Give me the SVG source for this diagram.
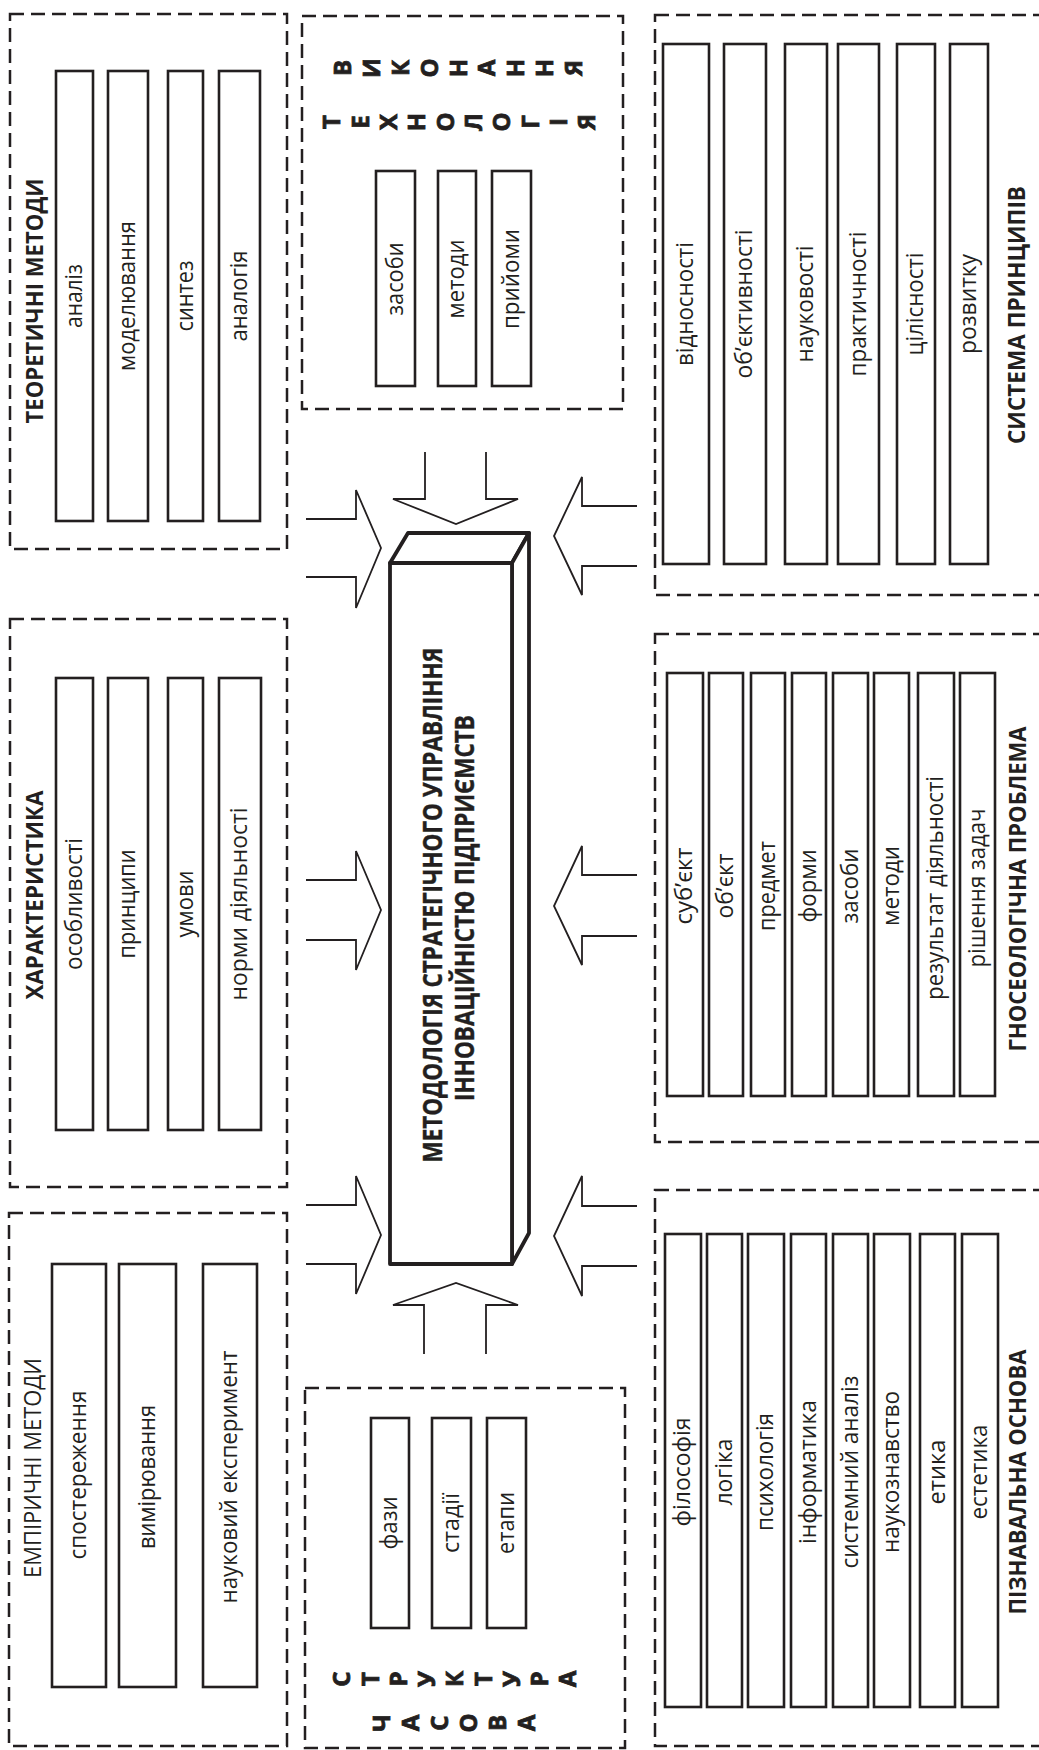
<svg xmlns="http://www.w3.org/2000/svg" width="1039" height="1750" viewBox="0 0 1039 1750">
<style>
.dash{fill:none;stroke:#231f20;stroke-width:2.5;stroke-dasharray:14 7}
.item{fill:#fff;stroke:#231f20;stroke-width:2.6}
.hub{fill:#fff;stroke:#231f20;stroke-width:3.8;stroke-linejoin:round}
.arrow{fill:none;stroke:#231f20;stroke-width:1.8}
text{font-family:'Open Sans','DejaVu Sans',sans-serif;fill:#231f20;text-anchor:middle}
.lbl{font-size:23px}
.ttl{font-size:24px;font-weight:bold}
.reg{font-size:24px}
.ltr{font-size:24px;font-weight:bold;stroke:#231f20;stroke-width:0.8}
.hubt{font-size:27px;font-weight:bold;stroke:#231f20;stroke-width:0.4}
</style>
<rect width="1039" height="1750" fill="#fff"/>

<g id="connectors">
<polyline class="arrow" points="306,519 356,519 356,490 381,548 356,608 356,577 306,577"/>
<polyline class="arrow" points="306,880 356,880 356,851 381,910 356,970 356,940 306,940"/>
<polyline class="arrow" points="306,1205 356,1205 356,1176 381,1235 356,1294 356,1264 306,1264"/>
<polyline class="arrow" points="637,506 582,506 582,477 554,536 582,595 582,566 637,566"/>
<polyline class="arrow" points="637,875 582,875 582,846 554,906 582,965 582,936 637,936"/>
<polyline class="arrow" points="637,1206 582,1206 582,1176 554,1236 582,1296 582,1266 637,1266"/>
<polyline class="arrow" points="425,452 425,499 393,499 456,524 518,499 486,499 486,452"/>
<polyline class="arrow" points="424,1354 424,1305 393,1305 456,1283 518,1305 486,1305 486,1354"/>
</g>

<g id="hub">
<polygon class="hub" points="390,563 408,533 529,533 512,563"/>
<polygon class="hub" points="512,563 529,533 529,1233 512,1264"/>
<rect class="hub" x="390" y="563" width="122" height="701"/>
<text class="hubt" transform="translate(433,905) rotate(-90)" dy="0.35em" textLength="515" lengthAdjust="spacingAndGlyphs">МЕТОДОЛОГІЯ СТРАТЕГІЧНОГО УПРАВЛІННЯ</text>
<text class="hubt" transform="translate(465,908) rotate(-90)" dy="0.35em" textLength="386" lengthAdjust="spacingAndGlyphs">ІННОВАЦІЙНІСТЮ ПІДПРИЄМСТВ</text>
</g>

<g id="theoretical">
<rect class="dash" x="10" y="14" width="277" height="535"/>
<text class="ttl" transform="translate(35,301) rotate(-90)" dy="0.35em" textLength="245" lengthAdjust="spacingAndGlyphs">ТЕОРЕТИЧНІ МЕТОДИ</text>
<rect class="item" x="56" y="71" width="37" height="450"/>
<rect class="item" x="108" y="71" width="40" height="450"/>
<rect class="item" x="168" y="71" width="35" height="450"/>
<rect class="item" x="219" y="71" width="41" height="450"/>
<text class="lbl" transform="translate(74.5,296) rotate(-90)" dy="0.32em" textLength="64" lengthAdjust="spacingAndGlyphs">аналіз</text>
<text class="lbl" transform="translate(128,296) rotate(-90)" dy="0.32em" textLength="150" lengthAdjust="spacingAndGlyphs">моделювання</text>
<text class="lbl" transform="translate(185.5,296) rotate(-90)" dy="0.32em" textLength="71" lengthAdjust="spacingAndGlyphs">синтез</text>
<text class="lbl" transform="translate(239.5,296) rotate(-90)" dy="0.32em" textLength="91" lengthAdjust="spacingAndGlyphs">аналогія</text>
</g>

<g id="characteristic">
<rect class="dash" x="10" y="619" width="277" height="568"/>
<text class="ttl" transform="translate(35,895) rotate(-90)" dy="0.35em" textLength="209" lengthAdjust="spacingAndGlyphs">ХАРАКТЕРИСТИКА</text>
<rect class="item" x="56" y="678" width="37" height="452"/>
<rect class="item" x="108" y="678" width="40" height="452"/>
<rect class="item" x="168" y="678" width="35" height="452"/>
<rect class="item" x="219" y="678" width="42" height="452"/>
<text class="lbl" transform="translate(74.5,904) rotate(-90)" dy="0.32em" textLength="132" lengthAdjust="spacingAndGlyphs">особливості</text>
<text class="lbl" transform="translate(128,904) rotate(-90)" dy="0.32em" textLength="109" lengthAdjust="spacingAndGlyphs">принципи</text>
<text class="lbl" transform="translate(185.5,904) rotate(-90)" dy="0.32em" textLength="67" lengthAdjust="spacingAndGlyphs">умови</text>
<text class="lbl" transform="translate(240,904) rotate(-90)" dy="0.32em" textLength="193" lengthAdjust="spacingAndGlyphs">норми діяльності</text>
</g>

<g id="empirical">
<rect class="dash" x="9" y="1213" width="278" height="533"/>
<text class="reg" transform="translate(33,1468) rotate(-90)" dy="0.35em" textLength="220" lengthAdjust="spacingAndGlyphs">ЕМПІРИЧНІ МЕТОДИ</text>
<rect class="item" x="52" y="1264" width="54" height="423"/>
<rect class="item" x="119" y="1264" width="57" height="423"/>
<rect class="item" x="203" y="1264" width="54" height="423"/>
<text class="lbl" transform="translate(79,1475) rotate(-90)" dy="0.32em" textLength="169" lengthAdjust="spacingAndGlyphs">спостереження</text>
<text class="lbl" transform="translate(147.5,1477) rotate(-90)" dy="0.32em" textLength="144" lengthAdjust="spacingAndGlyphs">вимірювання</text>
<text class="lbl" transform="translate(230,1477) rotate(-90)" dy="0.32em" textLength="253" lengthAdjust="spacingAndGlyphs">науковий експеримент</text>
</g>

<g id="technology">
<rect class="dash" x="302" y="16" width="321" height="393"/>
<text class="ltr" transform="translate(343,68) rotate(-90)" dy="0.35em">В</text>
<text class="ltr" transform="translate(371.8,68) rotate(-90)" dy="0.35em">И</text>
<text class="ltr" transform="translate(400.6,68) rotate(-90)" dy="0.35em">К</text>
<text class="ltr" transform="translate(429.4,68) rotate(-90)" dy="0.35em">О</text>
<text class="ltr" transform="translate(458.2,68) rotate(-90)" dy="0.35em">Н</text>
<text class="ltr" transform="translate(487,68) rotate(-90)" dy="0.35em">А</text>
<text class="ltr" transform="translate(515.8,68) rotate(-90)" dy="0.35em">Н</text>
<text class="ltr" transform="translate(544.6,68) rotate(-90)" dy="0.35em">Н</text>
<text class="ltr" transform="translate(573.4,68) rotate(-90)" dy="0.35em">Я</text>
<text class="ltr" transform="translate(332,122) rotate(-90)" dy="0.35em">Т</text>
<text class="ltr" transform="translate(360.3,122) rotate(-90)" dy="0.35em">Е</text>
<text class="ltr" transform="translate(388.6,122) rotate(-90)" dy="0.35em">Х</text>
<text class="ltr" transform="translate(416.9,122) rotate(-90)" dy="0.35em">Н</text>
<text class="ltr" transform="translate(445.2,122) rotate(-90)" dy="0.35em">О</text>
<text class="ltr" transform="translate(473.5,122) rotate(-90)" dy="0.35em">Л</text>
<text class="ltr" transform="translate(501.8,122) rotate(-90)" dy="0.35em">О</text>
<text class="ltr" transform="translate(530.1,122) rotate(-90)" dy="0.35em">Г</text>
<text class="ltr" transform="translate(558.4,122) rotate(-90)" dy="0.35em">І</text>
<text class="ltr" transform="translate(586.7,122) rotate(-90)" dy="0.35em">Я</text>
<rect class="item" x="376" y="171" width="39" height="215"/>
<rect class="item" x="438" y="171" width="38" height="215"/>
<rect class="item" x="492" y="171" width="39" height="215"/>
<text class="lbl" transform="translate(395.5,279) rotate(-90)" dy="0.32em" textLength="73" lengthAdjust="spacingAndGlyphs">засоби</text>
<text class="lbl" transform="translate(457,279) rotate(-90)" dy="0.32em" textLength="79" lengthAdjust="spacingAndGlyphs">методи</text>
<text class="lbl" transform="translate(511.5,279) rotate(-90)" dy="0.32em" textLength="100" lengthAdjust="spacingAndGlyphs">прийоми</text>
</g>

<g id="time-structure">
<rect class="dash" x="305" y="1388" width="320" height="360"/>
<rect class="item" x="371" y="1418" width="38" height="210"/>
<rect class="item" x="432" y="1418" width="39" height="210"/>
<rect class="item" x="487" y="1418" width="39" height="210"/>
<text class="lbl" transform="translate(390,1523) rotate(-90)" dy="0.32em" textLength="53" lengthAdjust="spacingAndGlyphs">фази</text>
<text class="lbl" transform="translate(451.5,1523) rotate(-90)" dy="0.32em" textLength="60" lengthAdjust="spacingAndGlyphs">стадії</text>
<text class="lbl" transform="translate(506.5,1523) rotate(-90)" dy="0.32em" textLength="62" lengthAdjust="spacingAndGlyphs">етапи</text>
<text class="ltr" transform="translate(342,1679) rotate(-90)" dy="0.35em">С</text>
<text class="ltr" transform="translate(370.25,1679) rotate(-90)" dy="0.35em">Т</text>
<text class="ltr" transform="translate(398.5,1679) rotate(-90)" dy="0.35em">Р</text>
<text class="ltr" transform="translate(426.75,1679) rotate(-90)" dy="0.35em">У</text>
<text class="ltr" transform="translate(455,1679) rotate(-90)" dy="0.35em">К</text>
<text class="ltr" transform="translate(483.25,1679) rotate(-90)" dy="0.35em">Т</text>
<text class="ltr" transform="translate(511.5,1679) rotate(-90)" dy="0.35em">У</text>
<text class="ltr" transform="translate(539.75,1679) rotate(-90)" dy="0.35em">Р</text>
<text class="ltr" transform="translate(568,1679) rotate(-90)" dy="0.35em">А</text>
<text class="ltr" transform="translate(382,1723) rotate(-90)" dy="0.35em">Ч</text>
<text class="ltr" transform="translate(411,1723) rotate(-90)" dy="0.35em">А</text>
<text class="ltr" transform="translate(440,1723) rotate(-90)" dy="0.35em">С</text>
<text class="ltr" transform="translate(469,1723) rotate(-90)" dy="0.35em">О</text>
<text class="ltr" transform="translate(498,1723) rotate(-90)" dy="0.35em">В</text>
<text class="ltr" transform="translate(527,1723) rotate(-90)" dy="0.35em">А</text>
</g>

<g id="principles">
<rect class="dash" x="655" y="15" width="400" height="580"/>
<rect class="item" x="663" y="44" width="46" height="520"/>
<rect class="item" x="724" y="44" width="42" height="520"/>
<rect class="item" x="785" y="44" width="42" height="520"/>
<rect class="item" x="838" y="44" width="41" height="520"/>
<rect class="item" x="897" y="44" width="38" height="520"/>
<rect class="item" x="950" y="44" width="38" height="520"/>
<text class="lbl" transform="translate(686,304) rotate(-90)" dy="0.32em" textLength="124" lengthAdjust="spacingAndGlyphs">відносності</text>
<text class="lbl" transform="translate(745,304) rotate(-90)" dy="0.32em" textLength="149" lengthAdjust="spacingAndGlyphs">об’єктивності</text>
<text class="lbl" transform="translate(806,304) rotate(-90)" dy="0.32em" textLength="117" lengthAdjust="spacingAndGlyphs">науковості</text>
<text class="lbl" transform="translate(858.5,304) rotate(-90)" dy="0.32em" textLength="145" lengthAdjust="spacingAndGlyphs">практичності</text>
<text class="lbl" transform="translate(916,304) rotate(-90)" dy="0.32em" textLength="103" lengthAdjust="spacingAndGlyphs">цілісності</text>
<text class="lbl" transform="translate(969,304) rotate(-90)" dy="0.32em" textLength="100" lengthAdjust="spacingAndGlyphs">розвитку</text>
<text class="ttl" transform="translate(1017,315) rotate(-90)" dy="0.35em" textLength="258" lengthAdjust="spacingAndGlyphs">СИСТЕМА ПРИНЦИПІВ</text>
</g>

<g id="gnoseological">
<rect class="dash" x="655" y="634" width="400" height="508"/>
<rect class="item" x="667" y="673" width="36" height="423"/>
<rect class="item" x="709" y="673" width="34" height="423"/>
<rect class="item" x="751" y="673" width="34" height="423"/>
<rect class="item" x="792" y="673" width="34" height="423"/>
<rect class="item" x="833" y="673" width="35" height="423"/>
<rect class="item" x="874" y="673" width="35" height="423"/>
<rect class="item" x="918" y="673" width="36" height="423"/>
<rect class="item" x="960" y="673" width="35" height="423"/>
<text class="lbl" transform="translate(685,886) rotate(-90)" dy="0.32em" textLength="77" lengthAdjust="spacingAndGlyphs">суб’єкт</text>
<text class="lbl" transform="translate(726,886) rotate(-90)" dy="0.32em" textLength="65" lengthAdjust="spacingAndGlyphs">об’єкт</text>
<text class="lbl" transform="translate(768,886) rotate(-90)" dy="0.32em" textLength="90" lengthAdjust="spacingAndGlyphs">предмет</text>
<text class="lbl" transform="translate(809,886) rotate(-90)" dy="0.32em" textLength="73" lengthAdjust="spacingAndGlyphs">форми</text>
<text class="lbl" transform="translate(850.5,886) rotate(-90)" dy="0.32em" textLength="75" lengthAdjust="spacingAndGlyphs">засоби</text>
<text class="lbl" transform="translate(891.5,886) rotate(-90)" dy="0.32em" textLength="80" lengthAdjust="spacingAndGlyphs">методи</text>
<text class="lbl" transform="translate(936,888) rotate(-90)" dy="0.32em" textLength="224" lengthAdjust="spacingAndGlyphs">результат діяльності</text>
<text class="lbl" transform="translate(977.5,888) rotate(-90)" dy="0.32em" textLength="159" lengthAdjust="spacingAndGlyphs">рішення задач</text>
<text class="ttl" transform="translate(1018,889) rotate(-90)" dy="0.35em" textLength="325" lengthAdjust="spacingAndGlyphs">ГНОСЕОЛОГІЧНА ПРОБЛЕМА</text>
</g>

<g id="cognitive-basis">
<rect class="dash" x="655" y="1190" width="400" height="556"/>
<rect class="item" x="665" y="1234" width="36" height="473"/>
<rect class="item" x="707" y="1234" width="35" height="473"/>
<rect class="item" x="748" y="1234" width="36" height="473"/>
<rect class="item" x="791" y="1234" width="35" height="473"/>
<rect class="item" x="833" y="1234" width="35" height="473"/>
<rect class="item" x="874" y="1234" width="36" height="473"/>
<rect class="item" x="920" y="1234" width="35" height="473"/>
<rect class="item" x="962" y="1234" width="36" height="473"/>
<text class="lbl" transform="translate(683,1472) rotate(-90)" dy="0.32em" textLength="109" lengthAdjust="spacingAndGlyphs">філософія</text>
<text class="lbl" transform="translate(724.5,1472) rotate(-90)" dy="0.32em" textLength="67" lengthAdjust="spacingAndGlyphs">логіка</text>
<text class="lbl" transform="translate(766,1472) rotate(-90)" dy="0.32em" textLength="118" lengthAdjust="spacingAndGlyphs">психологія</text>
<text class="lbl" transform="translate(808.5,1472) rotate(-90)" dy="0.32em" textLength="144" lengthAdjust="spacingAndGlyphs">інформатика</text>
<text class="lbl" transform="translate(850.5,1472) rotate(-90)" dy="0.32em" textLength="193" lengthAdjust="spacingAndGlyphs">системний аналіз</text>
<text class="lbl" transform="translate(892,1472) rotate(-90)" dy="0.32em" textLength="162" lengthAdjust="spacingAndGlyphs">наукознавство</text>
<text class="lbl" transform="translate(937.5,1472) rotate(-90)" dy="0.32em" textLength="65" lengthAdjust="spacingAndGlyphs">етика</text>
<text class="lbl" transform="translate(980,1472) rotate(-90)" dy="0.32em" textLength="95" lengthAdjust="spacingAndGlyphs">естетика</text>
<text class="ttl" transform="translate(1018,1482) rotate(-90)" dy="0.35em" textLength="265" lengthAdjust="spacingAndGlyphs">ПІЗНАВАЛЬНА ОСНОВА</text>
</g>
</svg>
